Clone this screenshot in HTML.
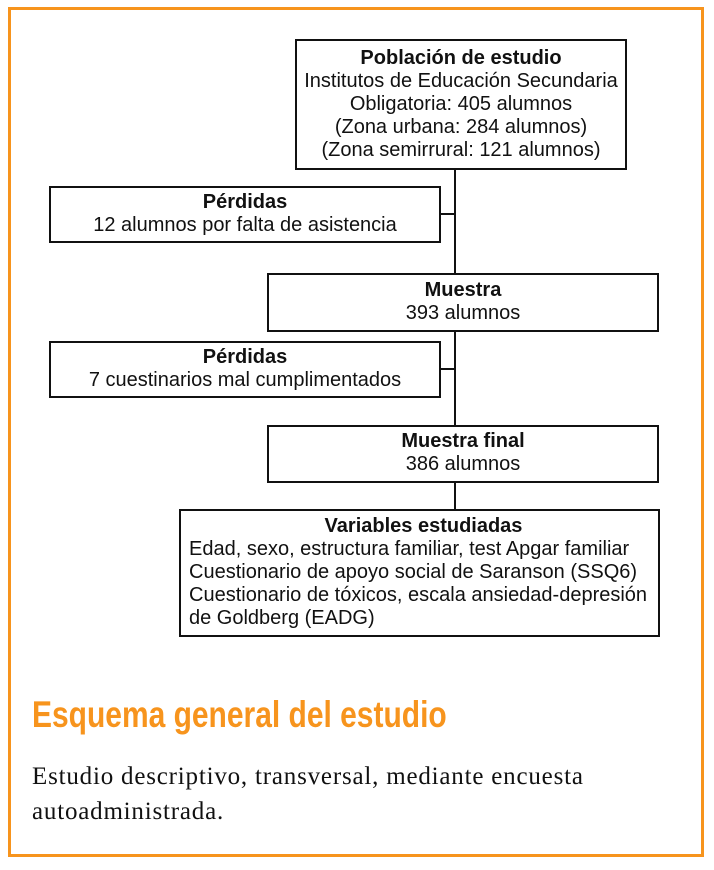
<!DOCTYPE html>
<html><head><meta charset="utf-8"><style>
body{margin:0;width:714px;height:870px;background:#fff;position:relative;overflow:hidden}
.frame{position:absolute;left:8px;top:7px;width:690px;height:844px;border:3px solid #f7941d}
.b{position:absolute;border:2px solid #111;box-sizing:border-box;background:#fff;z-index:2;text-align:center;font-family:"Liberation Sans Narrow","Liberation Sans",sans-serif;font-size:20px;line-height:23px;color:#111}
.b b{display:block}
.l{position:absolute;background:#111;z-index:1}
.t{position:absolute;left:32px;top:694px;font-family:"Liberation Sans",sans-serif;font-weight:bold;font-size:37px;color:#f7941d;transform:scaleX(0.81);transform-origin:0 0;white-space:nowrap}
.p{position:absolute;left:32px;top:759px;font-family:"Liberation Serif",serif;font-size:25px;line-height:35px;letter-spacing:0.8px;color:#111;width:670px;white-space:nowrap}
</style></head><body>
<div class="frame"></div>
<div class="l" style="left:454px;top:168px;width:2px;height:342px"></div>
<div class="l" style="left:440px;top:213px;width:15px;height:2px"></div>
<div class="l" style="left:440px;top:368px;width:15px;height:2px"></div>
<div class="b" style="left:295px;top:39px;width:332px;height:131px;padding-top:6px"><b>Población de estudio</b>Institutos de Educación Secundaria<br>Obligatoria: 405 alumnos<br>(Zona urbana: 284 alumnos)<br>(Zona semirrural: 121 alumnos)</div>
<div class="b" style="left:49px;top:186px;width:392px;height:57px;padding-top:3px"><b>Pérdidas</b>12 alumnos por falta de asistencia</div>
<div class="b" style="left:267px;top:273px;width:392px;height:59px;padding-top:4px"><b>Muestra</b>393 alumnos</div>
<div class="b" style="left:49px;top:341px;width:392px;height:57px;padding-top:3px"><b>Pérdidas</b>7 cuestinarios mal cumplimentados</div>
<div class="b" style="left:267px;top:425px;width:392px;height:58px;padding-top:3px"><b>Muestra final</b>386 alumnos</div>
<div class="b" style="left:179px;top:509px;width:481px;height:128px;padding:4px 0 0 8px;text-align:left"><b style="text-align:center">Variables estudiadas</b>Edad, sexo, estructura familiar, test Apgar familiar<br>Cuestionario de apoyo social de Saranson (SSQ6)<br>Cuestionario de tóxicos, escala ansiedad-depresión<br>de Goldberg (EADG)</div>
<div class="t">Esquema general del estudio</div>
<div class="p">Estudio descriptivo, transversal, mediante encuesta<br>autoadministrada.</div>
</body></html>
